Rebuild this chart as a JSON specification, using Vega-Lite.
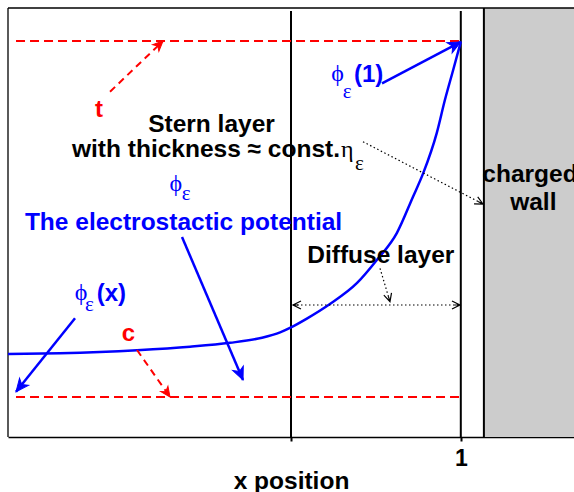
{
  "$schema": "https://vega.github.io/schema/vega-lite/v6.json",
  "width": 566,
  "height": 429,
  "autosize": {"type": "none"},
  "padding": {"left": 8, "top": 8, "right": 0, "bottom": 55},
  "background": "white",
  "config": {"view": {"stroke": null}, "font": "Liberation Sans"},
  "encoding": {
    "x": {
      "field": "x", "type": "quantitative",
      "scale": {"domain": [0, 1.25], "nice": false, "zero": false},
      "axis": {
        "values": [0.625, 1],
        "labelExpr": "datum.value == 1 ? '1' : ''",
        "labelFont": "Liberation Sans", "labelFontWeight": "bold", "labelFontSize": 23,
        "labelColor": "black", "labelPadding": 6,
        "tickColor": "black", "tickSize": 4, "tickWidth": 2,
        "domainColor": "black", "domainWidth": 1.3,
        "grid": false,
        "title": "x position",
        "titleFont": "Liberation Sans", "titleFontWeight": "bold", "titleFontSize": 24.5,
        "titleColor": "black", "titleBaseline": "alphabetic", "titleY": 51, "titleX": 283
      }
    },
    "y": {
      "field": "y", "type": "quantitative",
      "scale": {"domain": [0, 1], "nice": false, "zero": false},
      "axis": null
    }
  },
  "layer": [
    {
      "data": {"values": [{"x": 1.051, "x2": 1.25, "y": 0, "y2": 1}]},
      "mark": {"type": "rect", "fill": "#cccccc", "stroke": null},
      "encoding": {"x2": {"field": "x2"}, "y2": {"field": "y2"}}
    },
    {
      "data": {"values": [
        {"x": 0, "x2": 1.25, "y": 1, "y2": 1},
        {"x": 0, "x2": 0, "y": 0, "y2": 1}
      ]},
      "mark": {"type": "rule", "color": "black", "strokeWidth": 1.3},
      "encoding": {"x2": {"field": "x2"}, "y2": {"field": "y2"}}
    },
    {
      "data": {"values": [
        {"x": 1.051, "x2": 1.051, "y": 0, "y2": 1},
        {"x": 0.625, "x2": 0.625, "y": 0, "y2": 0.993},
        {"x": 1.0, "x2": 1.0, "y": 0, "y2": 0.993}
      ]},
      "mark": {"type": "rule", "color": "black", "strokeWidth": 2},
      "encoding": {"x2": {"field": "x2"}, "y2": {"field": "y2"}}
    },
    {
      "data": {"values": [
        {"x": 0.0177, "x2": 1.0, "y": 0.923, "y2": 0.923},
        {"x": 0.0177, "x2": 1.0, "y": 0.0932, "y2": 0.0932}
      ]},
      "mark": {"type": "rule", "color": "#ff0000", "strokeWidth": 2, "strokeDash": [9, 5]},
      "encoding": {"x2": {"field": "x2"}, "y2": {"field": "y2"}}
    },
    {
      "data": {"values": [
        {"x": 0.0, "y": 0.1935},
        {"x": 0.115, "y": 0.1955},
        {"x": 0.285, "y": 0.2025},
        {"x": 0.402, "y": 0.2105},
        {"x": 0.49, "y": 0.2195},
        {"x": 0.561, "y": 0.2315},
        {"x": 0.601, "y": 0.244},
        {"x": 0.625, "y": 0.2555},
        {"x": 0.66, "y": 0.276},
        {"x": 0.711, "y": 0.31},
        {"x": 0.771, "y": 0.359},
        {"x": 0.815, "y": 0.413},
        {"x": 0.859, "y": 0.476},
        {"x": 0.894, "y": 0.559},
        {"x": 0.917, "y": 0.615},
        {"x": 0.947, "y": 0.709},
        {"x": 0.965, "y": 0.786},
        {"x": 0.983, "y": 0.855},
        {"x": 1.0, "y": 0.921}
      ]},
      "mark": {"type": "line", "color": "#0000ff", "strokeWidth": 2.5, "interpolate": "monotone"},
      "encoding": {}
    },
    {
      "data": {"values": [
        {"x": 0.826, "y": 0.8245, "x2": 1.0, "y2": 0.921},
        {"x": 0.3843, "y": 0.4662, "x2": 0.519, "y2": 0.1329},
        {"x": 0.148, "y": 0.2767, "x2": 0.0177, "y2": 0.1056}
      ]},
      "mark": {"type": "rule", "color": "#0000ff", "strokeWidth": 2.5},
      "encoding": {"x2": {"field": "x2"}, "y2": {"field": "y2"}}
    },
    {
      "data": {"values": [
        {"x": 1.0, "y": 0.921, "angle": 62.4},
        {"x": 0.519, "y": 0.1329, "angle": 156.9},
        {"x": 0.0177, "y": 0.1056, "angle": 218.8}
      ]},
      "mark": {"type": "point", "shape": "M0,0 L-0.45,1 L0,0.72 L0.45,1 Z", "size": 650, "filled": true, "fill": "#0000ff", "stroke": "#0000ff", "strokeWidth": 1, "opacity": 1},
      "encoding": {"angle": {"field": "angle", "type": "quantitative", "scale": null}}
    },
    {
      "data": {"values": [
        {"x": 0.2253, "y": 0.8049, "x2": 0.3423, "y2": 0.923},
        {"x": 0.2849, "y": 0.2028, "x2": 0.3578, "y2": 0.0932}
      ]},
      "mark": {"type": "rule", "color": "#ff0000", "strokeWidth": 2, "strokeDash": [7, 5]},
      "encoding": {"x2": {"field": "x2"}, "y2": {"field": "y2"}}
    },
    {
      "data": {"values": [
        {"x": 0.3423, "y": 0.923, "angle": 46.3},
        {"x": 0.3578, "y": 0.0932, "angle": 144.9}
      ]},
      "mark": {"type": "point", "shape": "M0,0 L-0.45,1 L0,0.72 L0.45,1 Z", "size": 400, "filled": true, "fill": "#ff0000", "stroke": "#ff0000", "strokeWidth": 1, "opacity": 1},
      "encoding": {"angle": {"field": "angle", "type": "quantitative", "scale": null}}
    },
    {
      "data": {"values": [
        {"x": 0.784, "y": 0.6883, "x2": 1.049, "y2": 0.5431},
        {"x": 0.8216, "y": 0.3932, "x2": 0.8436, "y2": 0.3154},
        {"x": 0.6294, "y": 0.3077, "x2": 0.9982, "y2": 0.3077}
      ]},
      "mark": {"type": "rule", "color": "black", "strokeWidth": 1.2, "strokeDash": [1.5, 2.5]},
      "encoding": {"x2": {"field": "x2"}, "y2": {"field": "y2"}}
    },
    {
      "data": {"values": [
        {"x": 1.049, "y": 0.5431, "angle": 117.4},
        {"x": 0.8436, "y": 0.3154, "angle": 163.3},
        {"x": 0.6294, "y": 0.3077, "angle": 270},
        {"x": 0.9982, "y": 0.3077, "angle": 90}
      ]},
      "mark": {"type": "point", "shape": "M-0.5,1 L0,0 L0.5,1 M0,0 L0,0.7", "size": 256, "filled": false, "stroke": "black", "strokeWidth": 1.2, "opacity": 1},
      "encoding": {"angle": {"field": "angle", "type": "quantitative", "scale": null}}
    },
    {
      "data": {"values": [
        {"x": 0.4494, "y": 0.7116, "label": "Stern layer"},
        {"x": 0.8233, "y": 0.4049, "label": "Diffuse layer"},
        {"x": 1.1528, "y": 0.5951, "label": "charged"},
        {"x": 1.1601, "y": 0.5291, "label": "wall"}
      ]},
      "mark": {"type": "text", "font": "Liberation Sans", "fontWeight": "bold", "fontSize": 24.5, "color": "black", "align": "center", "baseline": "alphabetic"},
      "encoding": {"text": {"field": "label"}}
    },
    {
      "data": {"values": [
        {"x": 0.7332, "y": 0.6534, "label": "with thickness ≈ const."}
      ]},
      "mark": {"type": "text", "font": "Liberation Sans", "fontWeight": "bold", "fontSize": 24.5, "color": "black", "align": "right", "baseline": "alphabetic"},
      "encoding": {"text": {"field": "label"}}
    },
    {
      "data": {"values": [
        {"x": 0.7354, "y": 0.6526, "label": "η"}
      ]},
      "mark": {"type": "text", "font": "Liberation Serif", "fontSize": 24, "color": "black", "align": "left", "baseline": "alphabetic"},
      "encoding": {"text": {"field": "label"}}
    },
    {
      "data": {"values": [
        {"x": 0.7664, "y": 0.6224, "label": "ε"}
      ]},
      "mark": {"type": "text", "font": "Liberation Serif", "fontSize": 21, "color": "black", "align": "left", "baseline": "alphabetic"},
      "encoding": {"text": {"field": "label"}}
    },
    {
      "data": {"values": [
        {"x": 0.3876, "y": 0.4825, "label": "The electrostactic potential"}
      ]},
      "mark": {"type": "text", "font": "Liberation Sans", "fontWeight": "bold", "fontSize": 24.5, "color": "#0000ff", "align": "center", "baseline": "alphabetic"},
      "encoding": {"text": {"field": "label"}}
    },
    {
      "data": {"values": [
        {"x": 0.7641, "y": 0.8282, "label": "(1)"},
        {"x": 0.1959, "y": 0.317, "label": "(x)"}
      ]},
      "mark": {"type": "text", "font": "Liberation Sans", "fontWeight": "bold", "fontSize": 24, "color": "#0000ff", "align": "left", "baseline": "alphabetic"},
      "encoding": {"text": {"field": "label"}}
    },
    {
      "data": {"values": [
        {"x": 0.7277, "y": 0.83, "label": "ϕ"},
        {"x": 0.3706, "y": 0.5725, "label": "ϕ"},
        {"x": 0.1612, "y": 0.3193, "label": "ϕ"}
      ]},
      "mark": {"type": "text", "font": "Liberation Serif", "fontSize": 24, "color": "#0000ff", "align": "center", "baseline": "alphabetic"},
      "encoding": {"text": {"field": "label"}}
    },
    {
      "data": {"values": [
        {"x": 0.7392, "y": 0.7895, "label": "ε"},
        {"x": 0.3836, "y": 0.5524, "label": "ε"},
        {"x": 0.1701, "y": 0.2937, "label": "ε"}
      ]},
      "mark": {"type": "text", "font": "Liberation Serif", "fontSize": 21, "color": "#0000ff", "align": "left", "baseline": "alphabetic"},
      "encoding": {"text": {"field": "label"}}
    },
    {
      "data": {"values": [
        {"x": 0.201, "y": 0.7466, "label": "t"},
        {"x": 0.2657, "y": 0.2238, "label": "c"}
      ]},
      "mark": {"type": "text", "font": "Liberation Sans", "fontWeight": "bold", "fontSize": 24, "color": "#ff0000", "align": "center", "baseline": "alphabetic"},
      "encoding": {"text": {"field": "label"}}
    }
  ]
}
